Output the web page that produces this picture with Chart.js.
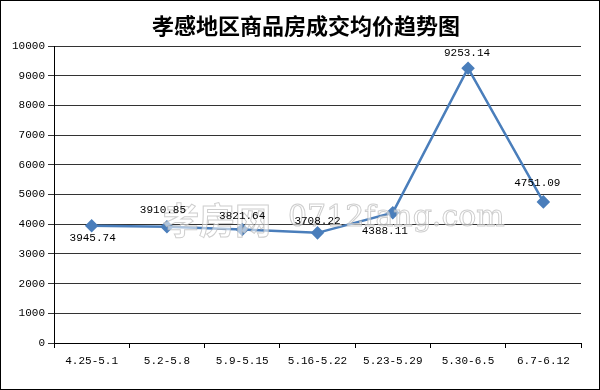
<!DOCTYPE html>
<html>
<head>
<meta charset="utf-8">
<script src="https://cdn.jsdelivr.net/npm/chart.js@4"></script>
<style>
  html, body { margin: 0; padding: 0; background: #fff; }
  #wrap { width: 600px; height: 390px; position: relative; }
</style>
</head>
<body>
<div id="wrap"><canvas id="canvas" width="600" height="390"></canvas></div>
<script>
// chart data
var chartTitle = '孝感地区商品房成交均价趋势图';
var weeks = ['4.25-5.1', '5.2-5.8', '5.9-5.15', '5.16-5.22', '5.23-5.29', '5.30-6.5', '6.7-6.12'];
var avgPrice = [3945.74, 3910.85, 3821.64, 3708.22, 4388.11, 9253.14, 4751.09];
var yTicks = [0, 1000, 2000, 3000, 4000, 5000, 6000, 7000, 8000, 9000, 10000];

// where each value label sits relative to its point
var labelDx = [1, -4, 0, 0, -8, -1, -6];
var labelDy = [12, -17, -13, -12, 18, -15, -19];

var monoFont = '"Liberation Mono", "DejaVu Sans Mono", monospace';

document.addEventListener('DOMContentLoaded', function () {
    var canvas = document.getElementById('canvas');

    // outer frame, white background and the heading
    var frame = {
        id: 'frame',
        beforeDraw: function (chart) {
            var ctx = chart.ctx;
            ctx.save();
            ctx.fillStyle = '#fff';
            ctx.fillRect(0, 0, chart.width, chart.height);
            ctx.strokeStyle = '#000';
            ctx.lineWidth = 1;
            ctx.strokeRect(0.5, 0.5, chart.width - 1, chart.height - 1);
            ctx.fillStyle = '#000';
            ctx.font = 'bold 22px "Noto Sans CJK SC"';
            ctx.textAlign = 'center';
            ctx.textBaseline = 'middle';
            ctx.fillText(chartTitle, 306, 26);
            ctx.restore();
        }
    };

    // site watermark over the plot
    var watermark = {
        id: 'watermark',
        afterDatasetsDraw: function (chart) {
            var ctx = chart.ctx;
            ctx.save();
            ctx.textBaseline = 'middle';
            ctx.lineWidth = 1;
            ctx.strokeStyle = 'rgba(185,185,185,0.7)';
            ctx.fillStyle = 'rgba(255,255,255,0.55)';
            ctx.font = 'bold 36px "Noto Sans CJK SC"';
            ctx.fillText('孝房网', 163, 220);
            ctx.strokeText('孝房网', 163, 220);
            ctx.font = '30px "DejaVu Serif"';
            ctx.fillText('0712fang.com', 288, 218);
            ctx.strokeText('0712fang.com', 288, 218);
            ctx.restore();
        }
    };

    // value labels next to each point
    var valueLabels = {
        id: 'valueLabels',
        afterDatasetsDraw: function (chart) {
            var ctx = chart.ctx;
            var meta = chart.getDatasetMeta(0);
            ctx.save();
            ctx.font = '11px ' + monoFont;
            ctx.fillStyle = '#000';
            ctx.textAlign = 'center';
            ctx.textBaseline = 'middle';
            meta.data.forEach(function (pt, i) {
                ctx.fillText(avgPrice[i].toFixed(2), pt.x + labelDx[i], pt.y + labelDy[i]);
            });
            ctx.restore();
        }
    };

    var config = {
        type: 'line',
        data: {
            labels: weeks,
            datasets: [{
                label: '成交均价',
                data: avgPrice,
                borderColor: '#4a7ebb',
                backgroundColor: '#4a7ebb',
                borderWidth: 2.5,
                pointStyle: 'rectRot',
                pointRadius: 5,
                pointBackgroundColor: '#4a7ebb',
                pointBorderColor: '#4a7ebb',
                tension: 0,
                fill: false
            }]
        },
        options: {
            responsive: false,
            animation: false,
            devicePixelRatio: 1,
            layout: {
                padding: { left: 0, right: 19, top: 46, bottom: 0 }
            },
            plugins: {
                legend: { display: false },
                tooltip: { enabled: false },
                title: { display: false }
            },
            scales: {
                x: {
                    offset: true,
                    afterFit: function (scale) { scale.height = 47; },
                    grid: {
                        offset: true,
                        drawOnChartArea: false,
                        tickLength: 5,
                        color: '#000'
                    },
                    border: { color: '#000', width: 1 },
                    ticks: {
                        color: '#000',
                        padding: 6,
                        maxRotation: 0,
                        font: { family: monoFont, size: 11 }
                    }
                },
                y: {
                    min: 0,
                    max: 10000,
                    afterFit: function (scale) { scale.width = 54; },
                    afterBuildTicks: function (scale) {
                        scale.ticks = yTicks.map(function (v) { return { value: v }; });
                    },
                    grid: {
                        color: '#333',
                        lineWidth: 1,
                        tickLength: 6
                    },
                    border: { color: '#000', width: 1 },
                    ticks: {
                        color: '#000',
                        padding: 3,
                        font: { family: monoFont, size: 11 },
                        callback: function (value) { return String(value); }
                    }
                }
            }
        },
        plugins: [frame, watermark, valueLabels]
    };

    window.chart = new Chart(canvas, config);
});
</script>
</body>
</html>
